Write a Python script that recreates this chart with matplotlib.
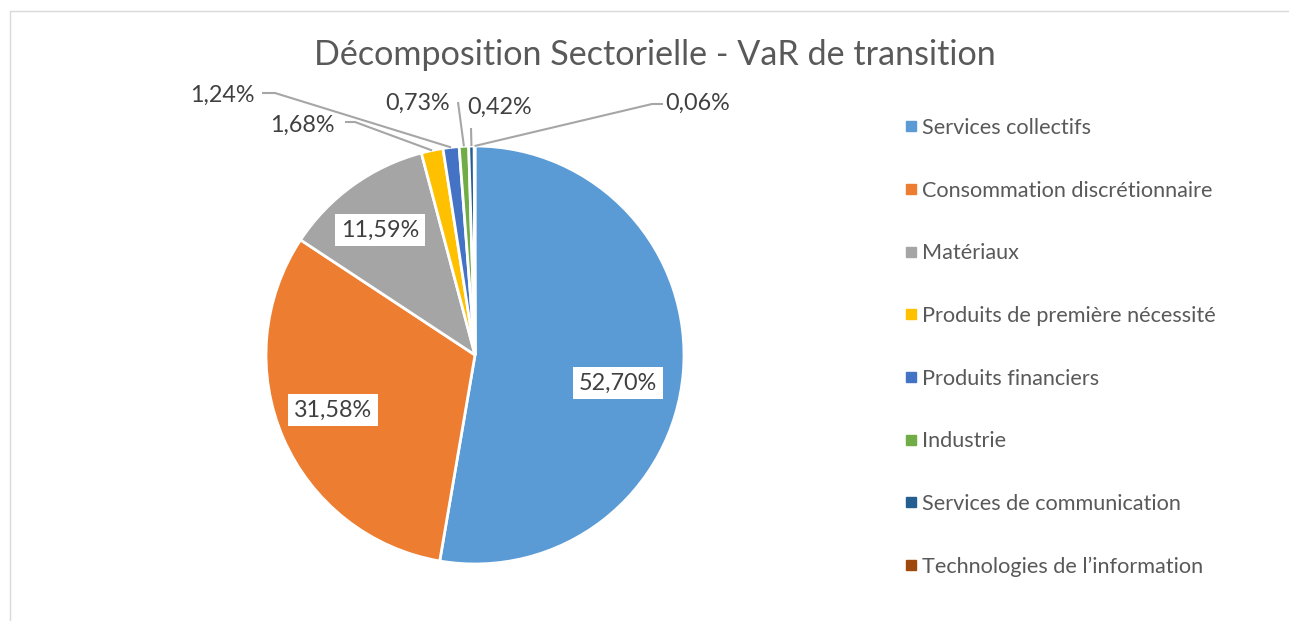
import matplotlib
matplotlib.use("Agg")
import matplotlib.pyplot as plt
import numpy as np
from matplotlib.lines import Line2D
from matplotlib.patches import Rectangle

categories = ["Services collectifs", "Consommation discrétionnaire", "Matériaux",
              "Produits de première nécessité", "Produits financiers", "Industrie",
              "Services de communication", "Technologies de l\u2019information"]
values = [52.70, 31.58, 11.59, 1.68, 1.24, 0.73, 0.42, 0.06]
colors = ["#5B9BD5", "#ED7D31", "#A5A5A5", "#FFC000", "#4472C4", "#70AD47", "#255E91", "#9E480E"]
title = "Décomposition Sectorielle - VaR de transition"

plt.rcParams['font.family'] = ['Lato', 'DejaVu Sans']
W, H = 1289, 621
fig = plt.figure(figsize=(W/100, H/100), dpi=100)
fig.patch.set_facecolor("white")

# chart border
fig.patches.append(Rectangle((10/W, -0.05), 2.0, (H-11)/H + 0.05, transform=fig.transFigure,
                             fill=False, edgecolor="#D9D9D9", linewidth=1.0))

cx, cy, r = 475, 355, 209
ax = fig.add_axes([(cx-r)/W, (H-cy-r)/H, 2*r/W, 2*r/H])

wedges, _ = ax.pie(values, colors=colors, startangle=90, counterclock=False, radius=1,
                   wedgeprops=dict(edgecolor="white", linewidth=2))
ax.set_xlim(-1, 1); ax.set_ylim(-1, 1)
ax.set_aspect("equal")
ax.axis("off")

def fmt(v):
    return f"{v:.2f}%".replace(".", ",")

txtcol = "#404040"
fs = 16.8
# inner labels (positions in data coords)
inner_pos = {0: (0.684, -0.134), 1: (-0.679, -0.263), 2: (-0.455, 0.598)}
for i, (x, y) in inner_pos.items():
    ax.text(x, y, fmt(values[i]), ha="center", va="center", fontsize=fs, color=txtcol,
            bbox=dict(boxstyle="square,pad=0.25", facecolor="white", edgecolor="none"))

def px(xp, yp):
    return ((xp - cx) / r, (cy - yp) / r)

# outer labels: text position (pixels), leader path points (pixels) excluding wedge point
outer = {
    3: dict(text=(302, 125), ha="center", path=[(345, 122), (355, 122)]),
    4: dict(text=(222, 95), ha="center", path=[(262, 93), (275, 93)]),
    5: dict(text=(418, 103), ha="center", path=[(458, 102)]),
    6: dict(text=(500, 107), ha="center", path=[(471, 128)]),
    7: dict(text=(698, 103), ha="center", path=[(663, 104), (652, 104)]),
}
cum = np.cumsum([0] + values[:-1])
total = sum(values)
for i, d in outer.items():
    mid = cum[i] + values[i] / 2
    ang = np.deg2rad(90 - 360 * mid / total)
    ex, ey = np.cos(ang), np.sin(ang)
    pts = [px(*p) for p in d["path"]] + [(ex, ey)]
    xs, ys = zip(*pts)
    ax.plot(xs, ys, color="#A6A6A6", linewidth=1.5, clip_on=False, solid_capstyle="butt")
    tx, ty = px(*d["text"])
    ax.text(tx, ty, fmt(values[i]), ha=d["ha"], va="center", fontsize=fs, color=txtcol,
            clip_on=False)

fig.text(655/W, 1 - 55/H, title, ha="center", va="center", fontsize=24.6, color="#595959")

handles = [Line2D([0], [0], marker="s", linestyle="none", markersize=7,
                  markerfacecolor=c, markeredgecolor=c) for c in colors]
leg = fig.legend(handles, categories, loc="upper left", bbox_to_anchor=(894/W, 1 - 107/H),
                 frameon=False, fontsize=15.6, labelcolor="#595959", labelspacing=1.97,
                 handlelength=0.6, handletextpad=0.2, borderpad=0)

fig.savefig("out.png", dpi=100, facecolor="white")
